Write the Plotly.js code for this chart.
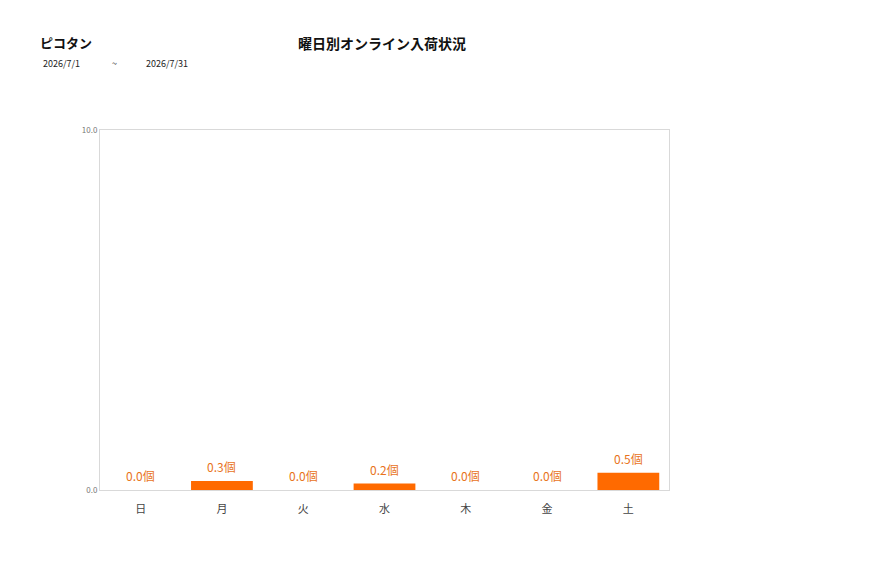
<!DOCTYPE html>
<html>
<head>
<meta charset="utf-8">
<script src="https://cdn.plot.ly/plotly-3.0.1.min.js"></script>
<style>
  html, body { margin: 0; padding: 0; background: #fff; }
  #chart { width: 877px; height: 578px; }
</style>
</head>
<body>
<div id="chart"></div>
<script>
// 曜日ごとの平均入荷数
var days = ['日', '月', '火', '水', '木', '金', '土'];
var counts = [0.0, 0.25, 0.0, 0.18, 0.0, 0.0, 0.48];
var yTicks = [0, 10];
var yTickText = ['0.0', '10.0'];

var font = 'Noto Sans CJK JP, Noto Sans, sans-serif';

var data = [{
  type: 'bar',
  x: days,
  y: counts,
  marker: { color: '#FF6A00' },
  hoverinfo: 'x+y'
}];

var layout = {
  width: 877,
  height: 578,
  margin: { l: 100, r: 208, t: 130, b: 88 },
  paper_bgcolor: '#fff',
  plot_bgcolor: '#fff',
  showlegend: false,
  bargap: 0.24,
  font: { family: font, color: '#333' },
  xaxis: {
    showgrid: false,
    showline: true,
    mirror: true,
    linecolor: '#d9d9d9',
    linewidth: 1,
    ticks: '',
    ticklabelstandoff: 9,
    tickfont: { size: 11, color: '#444' },
    fixedrange: true
  },
  yaxis: {
    range: [0, 10],
    tickvals: yTicks,
    ticktext: yTickText,
    showgrid: false,
    zeroline: false,
    showline: true,
    mirror: true,
    linecolor: '#d9d9d9',
    linewidth: 1,
    ticks: '',
    tickfont: { size: 8, color: '#777' },
    fixedrange: true
  },
  annotations: [
    { text: '<b>曜日別オンライン入荷状況</b>', showarrow: false, font: { size: 14, color: '#111' } },
    { text: '<b>ピコタン</b>', showarrow: false, font: { size: 13, color: '#111' } },
    { text: '2026/7/1', showarrow: false, font: { size: 9, color: '#222' } },
    { text: '~', showarrow: false, font: { size: 9, color: '#222' } },
    { text: '2026/7/31', showarrow: false, font: { size: 9, color: '#222' } }
  ]
};

// 見出しはピクセル座標で配置する
var W = 877, H = 578, L = 100, R = 208, T = 130, B = 88;
function px(x) { return (x - L) / (W - L - R); }
function py(y) { return (H - B - y) / (H - T - B); }
var heads = [
  [382, 43, 'center'],
  [38, 42, 'left'],
  [41, 63, 'left'],
  [110, 63, 'left'],
  [144, 63, 'left']
];
heads.forEach(function (h, i) {
  var a = layout.annotations[i];
  a.xref = 'paper'; a.yref = 'paper';
  a.x = px(h[0]); a.y = py(h[1]);
  a.xanchor = h[2]; a.yanchor = 'middle';
});

// 棒の上の値ラベル
days.forEach(function (d, i) {
  layout.annotations.push({
    x: d, y: counts[i], xref: 'x', yref: 'y',
    text: counts[i].toFixed(1) + '個',
    showarrow: false, yanchor: 'bottom', yshift: 4,
    font: { size: 12, color: '#E8731C', family: font }
  });
});

Plotly.newPlot('chart', data, layout, { displayModeBar: false, staticPlot: true });
</script>
</body>
</html>
